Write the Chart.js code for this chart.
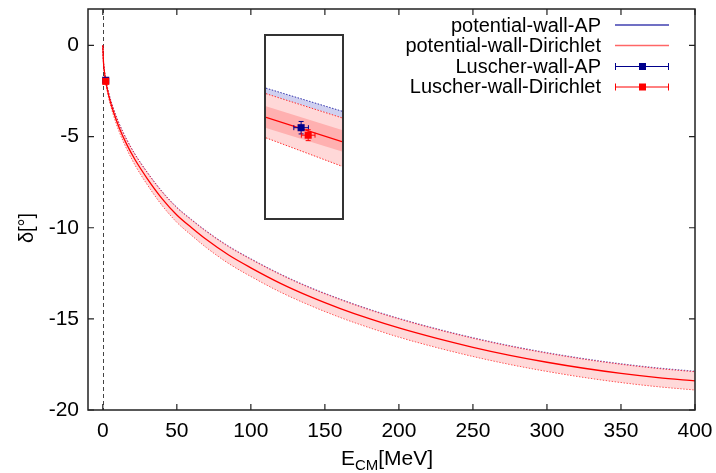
<!DOCTYPE html>
<html>
<head>
<meta charset="utf-8">
<script src="https://cdn.jsdelivr.net/npm/chart.js@4.4.0/dist/chart.umd.min.js"></script>
<style>
html, body { margin: 0; padding: 0; background: #fff; }
#wrap { position: relative; width: 716px; height: 473px; }
#mainChart { display: block; }
#inset { position: absolute; left: 264px; top: 34px; width: 80px; height: 186px; border: 2px solid #333; box-sizing: border-box; background: #fff; }
#insetChart { display: block; }
</style>
</head>
<body>
<div id="wrap">
  <canvas id="mainChart" width="716" height="473"></canvas>
  <div id="inset"><canvas id="insetChart" width="76" height="182"></canvas></div>
</div>
<script>
// phase shift vs centre-of-mass energy
const energy = [0, 0.5, 1, 2, 4, 7, 11, 16, 22, 30, 40, 50, 60, 70, 85, 100, 120, 140, 160, 180, 200, 225, 250, 275, 300, 325, 350, 375, 400];
const dirichletCentral = [0, -0.98, -1.39, -1.97, -2.75, -3.6, -4.5, -5.4, -6.3, -7.3, -8.4, -9.3, -10.0, -10.65, -11.5, -12.2, -13.05, -13.78, -14.42, -14.99, -15.5, -16.06, -16.56, -17.0, -17.38, -17.71, -17.99, -18.22, -18.4];
const dirichletUpper = [0, -0.94, -1.33, -1.88, -2.62, -3.43, -4.29, -5.15, -6.01, -6.97, -8.03, -8.9, -9.58, -10.21, -11.04, -11.73, -12.57, -13.3, -13.93, -14.5, -15.0, -15.56, -16.06, -16.5, -16.88, -17.21, -17.49, -17.72, -17.9];
const dirichletLower = [0, -1.02, -1.45, -2.06, -2.88, -3.77, -4.71, -5.65, -6.59, -7.63, -8.77, -9.7, -10.42, -11.09, -11.96, -12.67, -13.53, -14.26, -14.91, -15.48, -16.0, -16.56, -17.06, -17.5, -17.88, -18.21, -18.49, -18.72, -18.9];
const apUpper = [0, -0.93, -1.31, -1.86, -2.6, -3.41, -4.27, -5.13, -5.99, -6.95, -8.0, -8.87, -9.55, -10.18, -11.01, -11.7, -12.54, -13.27, -13.9, -14.47, -14.97, -15.53, -16.03, -16.47, -16.85, -17.18, -17.46, -17.69, -17.87];

// Luscher points (main panel)
const luscherApE = [1.96];
const luscherApPhase = [-1.91];
const luscherDirE = [2.0];
const luscherDirPhase = [-1.97];
const luscherApErrE = [0.1];
const luscherApErrPhase = [0.09];
const luscherDirErrE = [0.09];
const luscherDirErrPhase = [0.08];

// inset (zoom around the Luscher points)
const insetE = [1.5, 2.5];
const insetApUpper = [-1.445, -1.774];
const insetDirOuterUpper = [-1.524, -1.869];
const insetDirInnerUpper = [-1.703, -2.042];
const insetDirCentral = [-1.863, -2.208];
const insetDirInnerLower = [-2.014, -2.349];
const insetDirOuterLower = [-2.155, -2.561];
const insetApE = [1.962];
const insetApPhase = [-2.01];
const insetDirE = [2.055];
const insetDirPhase = [-2.117];
const insetApErrE = [0.096];
const insetApErrPhase = [0.089];
const insetDirErrE = [0.09];
const insetDirErrPhase = [0.078];

const xTicks = [0, 50, 100, 150, 200, 250, 300, 350, 400];
const yTicks = [0, -5, -10, -15, -20];

const FONT = "'Liberation Sans', Arial, Helvetica, sans-serif";
const NAVY = '#00008b';
const RED = '#ff0000';

function pts(xs, ys) {
    return xs.map((x, i) => ({ x: x, y: ys[i] }));
}

// error bars drawn right after their own dataset
const errorBarPlugin = {
    id: 'errorBars',
    afterDatasetDraw(chart, args) {
        const ds = chart.data.datasets[args.index];
        if (!ds.errE) return;
        const xs = chart.scales.x, ys = chart.scales.y;
        const ctx = chart.ctx;
        const cap = ds.capSize || 2.5;
        ctx.save();
        ctx.strokeStyle = ds.borderColor;
        ctx.lineWidth = 1;
        ds.data.forEach((p, i) => {
            const cx = xs.getPixelForValue(p.x), cy = ys.getPixelForValue(p.y);
            const x0 = xs.getPixelForValue(p.x - ds.errE[i]), x1 = xs.getPixelForValue(p.x + ds.errE[i]);
            const y0 = ys.getPixelForValue(p.y - ds.errPhase[i]), y1 = ys.getPixelForValue(p.y + ds.errPhase[i]);
            ctx.beginPath();
            ctx.moveTo(x0, cy); ctx.lineTo(x1, cy);
            ctx.moveTo(cx, y0); ctx.lineTo(cx, y1);
            ctx.moveTo(x0, cy - cap); ctx.lineTo(x0, cy + cap);
            ctx.moveTo(x1, cy - cap); ctx.lineTo(x1, cy + cap);
            ctx.moveTo(cx - cap, y0); ctx.lineTo(cx + cap, y0);
            ctx.moveTo(cx - cap, y1); ctx.lineTo(cx + cap, y1);
            ctx.stroke();
        });
        ctx.restore();
    }
};

// gnuplot-like frame, inward ticks, zero line, titles and legend
const framePlugin = {
    id: 'frame',
    beforeDatasetsDraw(chart) {
        const { ctx, chartArea: a, scales: { x } } = chart;
        const x0 = x.getPixelForValue(0);
        ctx.save();
        ctx.strokeStyle = '#444';
        ctx.lineWidth = 1;
        ctx.setLineDash([4, 3]);
        ctx.beginPath();
        ctx.moveTo(Math.round(x0) + 0.5, a.top);
        ctx.lineTo(Math.round(x0) + 0.5, a.bottom);
        ctx.stroke();
        ctx.restore();
    },
    afterDraw(chart) {
        const { ctx, chartArea: a, scales: { x, y } } = chart;
        ctx.save();
        ctx.strokeStyle = '#222';
        ctx.lineWidth = 1.5;
        ctx.strokeRect(a.left, a.top, a.right - a.left, a.bottom - a.top);
        ctx.lineWidth = 1.2;
        ctx.beginPath();
        xTicks.forEach(v => {
            const px = x.getPixelForValue(v);
            ctx.moveTo(px, a.bottom); ctx.lineTo(px, a.bottom - 6);
            ctx.moveTo(px, a.top); ctx.lineTo(px, a.top + 6);
        });
        yTicks.forEach(v => {
            const py = y.getPixelForValue(v);
            ctx.moveTo(a.left, py); ctx.lineTo(a.left + 6, py);
            ctx.moveTo(a.right, py); ctx.lineTo(a.right - 6, py);
        });
        ctx.stroke();

        // axis titles
        ctx.fillStyle = '#000';
        ctx.textBaseline = 'alphabetic';
        ctx.font = '21px ' + FONT;
        const wE = ctx.measureText('E').width;
        const wM = ctx.measureText('[MeV]').width;
        ctx.font = '15px ' + FONT;
        const wCM = ctx.measureText('CM').width;
        let tx = 387 - (wE + wCM + wM) / 2;
        ctx.font = '21px ' + FONT;
        ctx.fillText('E', tx, 465);
        tx += wE;
        ctx.font = '15px ' + FONT;
        ctx.fillText('CM', tx, 470);
        tx += wCM;
        ctx.font = '21px ' + FONT;
        ctx.fillText('[MeV]', tx, 465);

        ctx.save();
        ctx.translate(27, 228);
        ctx.rotate(-Math.PI / 2);
        ctx.textAlign = 'center';
        ctx.textBaseline = 'middle';
        ctx.font = '20px ' + FONT;
        ctx.fillText('δ[°]', 0, 0);
        ctx.restore();

        // legend
        const rows = [
            { label: 'potential-wall-AP', color: 'rgba(0,0,150,0.75)', kind: 'line' },
            { label: 'potential-wall-Dirichlet', color: 'rgba(255,0,0,0.6)', kind: 'line' },
            { label: 'Luscher-wall-AP', color: NAVY, kind: 'err' },
            { label: 'Luscher-wall-Dirichlet', color: RED, kind: 'err' }
        ];
        ctx.font = '20px ' + FONT;
        ctx.textAlign = 'right';
        ctx.textBaseline = 'middle';
        rows.forEach((r, i) => {
            const ry = 25 + i * 20.5;
            ctx.fillStyle = '#000';
            ctx.fillText(r.label, 601, ry + 1);
            ctx.strokeStyle = r.color;
            if (r.kind === 'line') {
                ctx.lineWidth = 1.6;
                ctx.beginPath();
                ctx.moveTo(615, ry); ctx.lineTo(669, ry);
                ctx.stroke();
            } else {
                ctx.lineWidth = 1;
                ctx.beginPath();
                ctx.moveTo(615, ry + 0.5); ctx.lineTo(669, ry + 0.5);
                ctx.moveTo(615.5, ry - 3); ctx.lineTo(615.5, ry + 4);
                ctx.moveTo(668.5, ry - 3); ctx.lineTo(668.5, ry + 4);
                ctx.stroke();
                ctx.fillStyle = r.color;
                ctx.fillRect(639, ry - 3, 7, 7);
            }
        });
        ctx.restore();
    }
};

new Chart(document.getElementById('mainChart'), {
    type: 'line',
    data: {
        datasets: [
            {
                label: 'Luscher-wall-Dirichlet',
                data: pts(luscherDirE, luscherDirPhase),
                errE: luscherDirErrE, errPhase: luscherDirErrPhase,
                showLine: false, pointStyle: 'rect', pointRadius: 5,
                backgroundColor: RED, borderColor: RED, borderWidth: 0, order: 0
            },
            {
                label: 'Luscher-wall-AP',
                data: pts(luscherApE, luscherApPhase),
                errE: luscherApErrE, errPhase: luscherApErrPhase,
                showLine: false, pointStyle: 'rect', pointRadius: 5,
                backgroundColor: NAVY, borderColor: NAVY, borderWidth: 0, order: 1
            },
            {
                label: 'potential-wall-Dirichlet',
                data: pts(energy, dirichletCentral),
                borderColor: RED, borderWidth: 1.3, pointRadius: 0,
                cubicInterpolationMode: 'monotone', fill: false, order: 2
            },
            {
                label: 'Dirichlet upper',
                data: pts(energy, dirichletUpper),
                borderColor: 'rgba(230,0,40,0.8)', borderWidth: 1, borderDash: [1.5, 1.5], pointRadius: 0,
                cubicInterpolationMode: 'monotone', fill: '+1', backgroundColor: 'rgba(255,180,180,0.5)', order: 3
            },
            {
                label: 'Dirichlet lower',
                data: pts(energy, dirichletLower),
                borderColor: 'rgba(255,0,0,0.8)', borderWidth: 1, borderDash: [1.5, 1.5], pointRadius: 0,
                cubicInterpolationMode: 'monotone', fill: false, order: 3
            },
            {
                label: 'AP upper',
                data: pts(energy, apUpper),
                borderColor: 'rgba(60,60,170,0.7)', borderWidth: 1, borderDash: [1.5, 1.5], pointRadius: 0,
                cubicInterpolationMode: 'monotone', fill: false, order: 4
            }
        ]
    },
    options: {
        responsive: false,
        animation: false,
        layout: { autoPadding: false, padding: { top: 9, right: 21, left: 0, bottom: 0 } },
        plugins: { legend: { display: false }, tooltip: { enabled: false } },
        scales: {
            x: {
                type: 'linear', min: -10, max: 400,
                afterBuildTicks: s => { s.ticks = xTicks.map(v => ({ value: v })); },
                afterFit: s => { s.height = 63; s.paddingLeft = 0; s.paddingRight = 0; },
                grid: { display: false, drawTicks: false },
                border: { display: false },
                ticks: { color: '#000', font: { family: FONT, size: 21 }, padding: 9, maxRotation: 0, autoSkip: false }
            },
            y: {
                type: 'linear', min: -20, max: 2,
                afterBuildTicks: s => { s.ticks = yTicks.map(v => ({ value: v })); },
                afterFit: s => { s.width = 88; s.paddingTop = 0; s.paddingBottom = 0; },
                grid: { display: false, drawTicks: false },
                border: { display: false },
                ticks: { color: '#000', font: { family: FONT, size: 21 }, padding: 9, autoSkip: false }
            }
        }
    },
    plugins: [framePlugin, errorBarPlugin]
});

new Chart(document.getElementById('insetChart'), {
    type: 'line',
    data: {
        datasets: [
            {
                label: 'Luscher-wall-Dirichlet',
                data: pts(insetDirE, insetDirPhase),
                errE: insetDirErrE, errPhase: insetDirErrPhase, capSize: 2.5,
                showLine: false, pointStyle: 'rect', pointRadius: 5,
                backgroundColor: RED, borderColor: RED, borderWidth: 0, order: 0
            },
            {
                label: 'Luscher-wall-AP',
                data: pts(insetApE, insetApPhase),
                errE: insetApErrE, errPhase: insetApErrPhase, capSize: 2.5,
                showLine: false, pointStyle: 'rect', pointRadius: 5,
                backgroundColor: NAVY, borderColor: NAVY, borderWidth: 0, order: 1
            },
            {
                label: 'central',
                data: pts(insetE, insetDirCentral),
                borderColor: RED, borderWidth: 1.3, pointRadius: 0, fill: false, order: 2
            },
            {
                label: 'outer upper',
                data: pts(insetE, insetDirOuterUpper),
                borderColor: 'rgba(255,0,0,0.8)', borderWidth: 1, borderDash: [1.5, 1.5], pointRadius: 0, fill: false, order: 3
            },
            {
                label: 'outer lower',
                data: pts(insetE, insetDirOuterLower),
                borderColor: 'rgba(255,0,0,0.8)', borderWidth: 1, borderDash: [1.5, 1.5], pointRadius: 0, fill: false, order: 3
            },
            {
                label: 'ap upper',
                data: pts(insetE, insetApUpper),
                borderColor: 'rgba(0,0,150,0.8)', borderWidth: 1, borderDash: [1.5, 1.5], pointRadius: 0, fill: false, order: 3
            },
            {
                label: 'inner band',
                data: pts(insetE, insetDirInnerUpper),
                borderWidth: 0, pointRadius: 0,
                fill: { target: 7 }, backgroundColor: '#ffb0b0', order: 4
            },
            {
                label: 'inner band lower',
                data: pts(insetE, insetDirInnerLower),
                borderWidth: 0, pointRadius: 0, fill: false, order: 4
            },
            {
                label: 'outer band',
                data: pts(insetE, insetDirOuterUpper),
                borderWidth: 0, pointRadius: 0,
                fill: { target: 9 }, backgroundColor: '#ffd8d8', order: 5
            },
            {
                label: 'outer band lower',
                data: pts(insetE, insetDirOuterLower),
                borderWidth: 0, pointRadius: 0, fill: false, order: 5
            },
            {
                label: 'ap band',
                data: pts(insetE, insetApUpper),
                borderWidth: 0, pointRadius: 0,
                fill: { target: 8 }, backgroundColor: '#cfd0f0', order: 6
            }
        ]
    },
    options: {
        responsive: false,
        animation: false,
        layout: { autoPadding: false, padding: 0 },
        plugins: { legend: { display: false }, tooltip: { enabled: false } },
        scales: {
            x: { type: 'linear', min: 1.5, max: 2.5, display: false },
            y: { type: 'linear', min: -3.3, max: -0.7, display: false }
        }
    },
    plugins: [errorBarPlugin]
});
</script>
</body>
</html>
